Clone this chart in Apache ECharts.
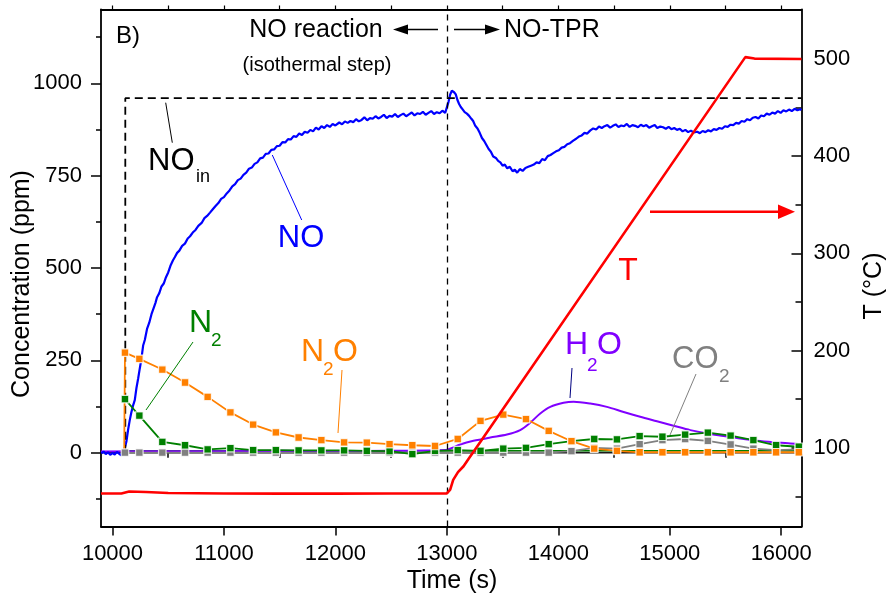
<!DOCTYPE html>
<html>
<head>
<meta charset="utf-8">
<script src="https://cdn.jsdelivr.net/npm/echarts@6/dist/echarts.min.js"></script>
<style>
  html, body { margin: 0; padding: 0; background: #fff; }
  #chart { width: 893px; height: 601px; }
</style>
</head>
<body>
<div id="chart"></div>
<script>
// ---- axis ranges and ticks ----
const timeRange = [9897, 16182];
const concRange = [-200, 1200];
const tempRange = [19, 551];
const timeTicks = [10000, 11000, 12000, 13000, 14000, 15000, 16000];
const timeMinorTicks = [10500, 11500, 12500, 13500, 14500, 15500];
const timeTopTicks = [10000, 10500, 11000, 11500, 12000, 12500, 13000, 13500, 14000, 14500, 15000, 15500, 16000];
const concTicks = [0, 250, 500, 750, 1000];
const concMinorTicks = [-125, 125, 375, 625, 875, 1125];
const tempTicks = [100, 200, 300, 400, 500];
const tempMinorTicks = [50, 150, 250, 350, 450];
const switchTime = 13000;

// ---- measured NO concentration (ppm), continuous signal ----
const noSignal = [
  [9900,-2],[9920,3],[9940,-4],[9960,1],[9980,-6],[10000,-1],[10020,-5],[10040,2],[10060,-3],[10080,-7],[10100,-1],[10112,2],
  [10125,30],[10140,62],[10155,88],[10170,110],[10185,128],[10200,142],[10215,175],[10230,200],[10245,228],[10260,255],
  [10275,290],[10290,305],[10310,335],[10330,352],[10350,375],[10370,392],[10385,405],[10400,421],[10420,432],[10440,450],
  [10460,458],[10480,475],[10500,488],[10520,506],[10543,521],[10560,530],[10580,541],[10600,547],[10625,560],[10650,566],
  [10675,580],[10696,586],[10720,596],[10745,603],[10770,614],[10800,622],[10825,635],[10849,641],[10875,650],[10900,659],
  [10925,668],[10950,676],[10975,687],[11000,692],[11025,702],[11050,710],[11075,721],[11100,727],[11125,738],[11150,742],
  [11175,752],[11200,758],[11225,769],[11250,772],[11275,782],[11300,786],[11325,797],[11350,799],[11375,809],[11400,810],
  [11425,820],[11450,821],[11475,830],[11500,831],[11525,841],[11550,840],[11575,849],[11600,848],[11625,857],[11650,855],
  [11675,864],[11700,860],[11725,869],[11750,866],[11775,874],[11800,870],[11825,880],[11850,875],[11875,884],[11900,879],
  [11925,887],[11950,882],[11975,890],[12000,886],[12035,894],[12060,889],[12085,897],[12110,893],[12135,898],[12160,895],
  [12185,903],[12210,897],[12235,901],[12260,908],[12285,900],[12310,906],[12335,904],[12360,911],[12385,905],[12410,909],
  [12435,915],[12460,906],[12485,912],[12510,910],[12535,917],[12560,909],[12585,914],[12610,918],[12635,911],[12660,916],
  [12685,921],[12710,913],[12735,919],[12760,917],[12785,923],[12810,915],[12835,920],[12860,925],[12885,917],[12910,922],
  [12935,919],[12960,926],[12985,920],
  [13000,935],[13015,950],[13030,970],[13045,980],[13055,984],[13065,976],[13080,970],[13095,955],[13110,944],[13125,936],
  [13140,930],[13160,922],[13180,918],[13200,912],[13220,904],[13236,898],[13255,885],[13275,878],[13295,866],[13315,852],
  [13335,844],[13355,833],[13375,822],[13395,815],[13416,802],[13440,798],[13460,790],[13480,786],[13500,777],[13520,780],
  [13542,770],[13565,774],[13590,762],[13610,766],[13631,758],[13655,768],[13680,763],[13705,771],[13730,774],[13755,777],
  [13780,780],[13805,786],[13830,784],[13855,795],[13880,792],[13905,803],[13930,806],[13955,811],[13980,816],[14005,819],
  [14030,826],[14055,828],[14080,835],[14105,838],[14134,845],[14160,850],[14185,856],[14210,859],[14235,866],[14260,864],
  [14285,872],[14313,878],[14340,875],[14365,883],[14390,879],[14415,884],[14440,887],[14465,880],[14490,885],[14515,889],
  [14540,882],[14565,886],[14590,884],[14615,890],[14640,882],[14665,887],[14690,885],[14715,881],[14740,888],[14765,884],
  [14790,887],[14815,880],[14840,884],[14865,887],[14888,879],[14915,883],[14940,881],[14965,877],[14990,882],[15015,876],
  [15040,879],[15065,874],[15090,877],[15115,870],[15140,874],[15165,868],[15190,872],[15215,867],[15247,869],[15270,865],
  [15295,871],[15320,868],[15345,873],[15370,870],[15395,876],[15420,874],[15445,879],[15470,877],[15495,884],[15520,882],
  [15545,888],[15570,887],[15595,893],[15620,891],[15645,898],[15670,896],[15695,903],[15720,900],[15745,907],[15770,909],
  [15795,905],[15820,913],[15845,911],[15870,918],[15895,915],[15920,921],[15945,918],[15970,925],[15995,920],[16020,927],
  [16045,924],[16070,929],[16095,925],[16120,931],[16145,927],[16170,930],[16182,928]
];

// ---- NO feed concentration (ppm) ----
const noInlet = [[10115, 0], [10115, 960], [16182, 960]];

// ---- H2O (ppm), continuous signal ----
const h2oSignal = [
  [9897,3],[10500,4],[11000,4],[11500,5],[12000,4],[12500,5],[12990,7],[13040,12],[13120,22],[13239,32],[13389,41],
  [13539,49],[13658,61],[13748,81],[13838,106],[13928,124],[14047,135],[14137,138],[14287,133],[14436,124],[14586,110],
  [14735,97],[14885,85],[15034,73],[15184,61],[15334,52],[15483,45],[15633,38],[15783,32],[15932,28],[16082,25],[16182,23]
];

// ---- trace along the baseline ----
const n2Baseline = [[10112, 5], [16182, 5]];
const zeroBaseline = [[9897, 0], [16182, 0]];

// ---- sampled species (ppm) at the analysis times (s) ----
const sampleTimes = [10112, 10241, 10447, 10651, 10854, 11058, 11262, 11466, 11670, 11874, 12078, 12282, 12486, 12690,
  12894, 13098, 13302, 13506, 13710, 13914, 14118, 14322, 14526, 14730, 14934, 15138, 15342, 15546, 15750, 15954, 16158];
const n2oValues = [271, 254, 225, 190, 151, 109, 76, 55, 41, 34, 28, 27, 23, 20, 18, 37, 86, 103, 91, 59, 31, 11, 5,
  1, 1, 1, 1, 1, 1, 1, 1];
const n2Values = [145, 100, 29, 20, 9, 12, 7, 7, 6, 6, 6, 5, 4, -4, 5, 7, 5, 11, 13, 23, 31, 37, 36, 45, 43, 49, 54,
  46, 34, 20, 16];
const co2Values = [0, 0, 0, 0, 0, 0, 0, 0, 0, 0, 0, 0, 0, 0, 0, 0, 0, 0, 0, 0, 4, 13, 11, 23, 34, 37, 32, 22, 11, 7, 9];

// ---- temperature (°C) ----
const temperature = [
  [9897,53],[10080,53],[10150,55],[10300,54.5],[10500,53.5],[11000,53],[11500,52.8],[12000,52.8],[12500,53],[13000,53],
  [13030,57],[13057,67],[13100,75],[13150,81],[13191,88],[13300,106],[15678,502],[15760,500.5],[16182,500]
];

const FONT = "'Liberation Sans', Arial, sans-serif";
const pairs = (vals) => sampleTimes.map((t, i) => [t, vals[i]]);
const plain = (v) => String(v);

const chart = echarts.init(document.getElementById('chart'), null, { renderer: 'canvas' });

const baseAxis = (extra) => Object.assign({
  type: 'value',
  splitLine: { show: false },
  axisLine: { show: true, onZero: false, lineStyle: { color: '#000', width: 1.8 } },
  axisTick: { lineStyle: { color: '#000', width: 1.5 } },
  axisLabel: { color: '#000', fontSize: 22, fontFamily: FONT }
}, extra);

function markerSeries(name, color, data) {
  return {
    name, type: 'line', data, xAxisIndex: 0, yAxisIndex: 0,
    symbol: 'rect', symbolSize: 7.5,
    itemStyle: { color, borderColor: 'rgba(255,255,255,0.8)', borderWidth: 1.2 },
    lineStyle: { color, width: 1.8 },
    z: 4
  };
}

const n2oData = [{ value: [10105, 0], symbol: 'none' }].concat(pairs(n2oValues));

const text = (x, y, str, size, color, align, extra) => Object.assign({
  type: 'text', x, y, z: 100,
  style: { text: str, fill: color, fontSize: size, fontFamily: FONT, align: align || 'center', verticalAlign: 'middle' }
}, extra || {});
const seg = (x1, y1, x2, y2, color, w) => ({
  type: 'line', z: 100, shape: { x1, y1, x2, y2 }, style: { stroke: color, lineWidth: w || 1 }
});
const tri = (pts, color) => ({ type: 'polygon', z: 100, shape: { points: pts }, style: { fill: color } });

chart.setOption({
  animation: false,
  backgroundColor: '#fff',
  grid: { left: 101, right: 91.5, top: 9.5, bottom: 74.5, containLabel: false },
  xAxis: [
    baseAxis({ min: timeRange[0], max: timeRange[1], position: 'bottom',
      axisTick: { customValues: timeTicks, length: 9, lineStyle: { color: '#000', width: 1.5 } },
      axisLabel: { customValues: timeTicks, formatter: plain, margin: 16, color: '#000', fontSize: 22, fontFamily: FONT } }),
    baseAxis({ min: timeRange[0], max: timeRange[1], position: 'bottom', axisLine: { show: false },
      axisTick: { customValues: timeMinorTicks, length: 5, lineStyle: { color: '#000', width: 1.5 } },
      axisLabel: { show: false } }),
    baseAxis({ min: timeRange[0], max: timeRange[1], position: 'top',
      axisTick: { customValues: timeTopTicks, length: 4, lineStyle: { color: '#000', width: 1.2 } },
      axisLabel: { show: false } })
  ],
  yAxis: [
    baseAxis({ min: concRange[0], max: concRange[1], position: 'left',
      axisTick: { customValues: concTicks, length: 10, lineStyle: { color: '#000', width: 1.5 } },
      axisLabel: { customValues: concTicks, formatter: plain, margin: 19, color: '#000', fontSize: 22, fontFamily: FONT } }),
    baseAxis({ min: tempRange[0], max: tempRange[1], position: 'right',
      axisTick: { customValues: tempTicks, inside: true, length: 10, lineStyle: { color: '#000', width: 1.5 } },
      axisLabel: { customValues: tempTicks, formatter: plain, margin: 12, color: '#000', fontSize: 22, fontFamily: FONT } }),
    baseAxis({ min: concRange[0], max: concRange[1], position: 'left', axisLine: { show: false },
      axisTick: { customValues: concMinorTicks, length: 5, lineStyle: { color: '#000', width: 1.5 } },
      axisLabel: { show: false } }),
    baseAxis({ min: tempRange[0], max: tempRange[1], position: 'right', axisLine: { show: false },
      axisTick: { customValues: tempMinorTicks, inside: true, length: 6, lineStyle: { color: '#000', width: 1.5 } },
      axisLabel: { show: false } })
  ],
  series: [
    {
      name: 'zero', type: 'line', data: zeroBaseline, symbol: 'none', z: 1,
      lineStyle: { color: '#1a1a1a', width: 1.6 },
      markLine: {
        silent: true, symbol: 'none', label: { show: false },
        lineStyle: { color: '#000', type: [6, 5], width: 1.3 },
        data: [{ xAxis: switchTime }]
      }
    },
    { name: 'N2 trace', type: 'line', data: n2Baseline, symbol: 'none', z: 2, lineStyle: { color: '#008000', width: 1.5 } },
    { name: 'H2O', type: 'line', data: h2oSignal, symbol: 'none', smooth: 0.3, z: 3, lineStyle: { color: '#8000ff', width: 2 } },
    { name: 'NO', type: 'line', data: noSignal, symbol: 'none', z: 3, lineStyle: { color: '#0000ff', width: 2.2 } },
    { name: 'NO in', type: 'line', data: noInlet, symbol: 'none', z: 3, lineStyle: { color: '#000', width: 1.8, type: [8, 5] } },
    markerSeries('CO2', '#808080', pairs(co2Values)),
    markerSeries('N2', '#008000', pairs(n2Values)),
    markerSeries('N2O', '#ff8000', n2oData),
    { name: 'T', type: 'line', data: temperature, yAxisIndex: 1, symbol: 'none', z: 5, lineStyle: { color: '#ff0000', width: 2.6 } }
  ],
  graphic: [
    // axis titles
    text(22, 284, 'Concentration (ppm)', 25, '#000', 'center', { rotation: Math.PI / 2 }),
    text(874, 286, 'T (°C)', 25, '#000', 'center', { rotation: Math.PI / 2 }),
    text(452, 581, 'Time (s)', 25, '#000'),
    // panel tag and phase labels
    text(128, 36, 'B)', 24, '#000'),
    text(316, 30, 'NO reaction', 25, '#000'),
    text(317, 65, '(isothermal step)', 20, '#000'),
    text(504, 30, 'NO-TPR', 25, '#000', 'left'),
    seg(438, 29.5, 404, 29.5, '#000', 1.5), tri([[393, 29.5], [408, 24.5], [408, 34.5]], '#000'),
    seg(454, 29.5, 488, 29.5, '#000', 1.5), tri([[500, 29.5], [485, 24.5], [485, 34.5]], '#000'),
    // series labels
    text(148, 161, 'NO', 31, '#000', 'left'),
    text(196, 177, 'in', 18, '#000', 'left'),
    seg(165.7, 102.7, 172.3, 142.7, '#000', 1),
    text(301, 238, 'NO', 31, '#0000ff'),
    seg(272.3, 155, 301.7, 220, '#0000ff', 1),
    text(189, 323, 'N', 32, '#008000', 'left'),
    text(211, 341, '2', 19, '#008000', 'left'),
    seg(193, 342, 146, 410, '#008000', 1),
    text(301, 352, 'N', 32, '#ff8000', 'left'),
    text(323, 370, '2', 19, '#ff8000', 'left'),
    text(333, 352, 'O', 32, '#ff8000', 'left'),
    seg(342, 370, 338, 433, '#ff8000', 1),
    text(565, 345, 'H', 32, '#8000ff', 'left'),
    text(587, 366, '2', 19, '#8000ff', 'left'),
    text(597, 345, 'O', 32, '#8000ff', 'left'),
    seg(572, 368, 570, 398, '#000080', 1),
    text(672, 359, 'CO', 31, '#808080', 'left'),
    text(719, 377, '2', 19, '#808080', 'left'),
    seg(696, 374, 670, 435, '#808080', 1),
    text(628, 271, 'T', 32, '#ff0000'),
    seg(650, 211.7, 782, 211.7, '#ff0000', 2.5), tri([[795, 211.7], [778, 204.5], [778, 219]], '#ff0000')
  ]
});
</script>
</body>
</html>
